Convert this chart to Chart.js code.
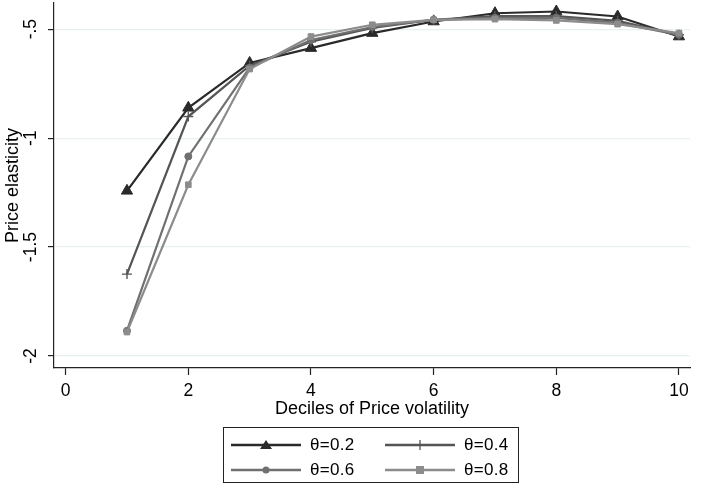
<!DOCTYPE html>
<html>
<head>
<meta charset="utf-8">
<script src="https://cdn.jsdelivr.net/npm/chart.js@4/dist/chart.umd.min.js"></script>
<style>
  html, body { margin:0; padding:0; background:#fff; }
  #wrap { position:relative; width:708px; height:488px; }
  #c { position:absolute; left:0; top:0; }
  #legend { position:absolute; left:223px; top:427px; width:296px; height:56px; border:1px solid #222; box-sizing:border-box;
    font-family:"Liberation Sans", Arial, sans-serif; font-size:17px; letter-spacing:0.3px; color:#000; }
  .item { position:absolute; display:flex; align-items:center; }
  .item span { margin-left:9px; }
</style>
</head>
<body>
<div id="wrap">
<canvas id="c" width="708" height="488"></canvas>
<div id="legend"></div>
</div>
<script>
const deciles = [1,2,3,4,5,6,7,8,9,10];
const labels = ['θ=0.2','θ=0.4','θ=0.6','θ=0.8'];
const theta02 = [-1.242,-0.861,-0.655,-0.587,-0.518,-0.465,-0.427,-0.419,-0.442,-0.534];
const theta04 = [-1.624,-0.901,-0.668,-0.558,-0.494,-0.457,-0.440,-0.440,-0.462,-0.526];
const theta06 = [-1.884,-1.084,-0.677,-0.550,-0.490,-0.457,-0.448,-0.448,-0.471,-0.526];
const theta08 = [-1.890,-1.214,-0.683,-0.534,-0.480,-0.457,-0.454,-0.460,-0.477,-0.518];
const xTicks = [0,2,4,6,8,10];
const yTicks = [-2,-1.5,-1,-0.5];
const yTickLabels = ['-2','-1.5','-1','-.5'];

const colors = ['#2a2a2a','#555555','#707070','#8c8c8c'];
const styles = ['triangle','cross','circle','rect'];
const radii = [6.5,5,3.5,4];
const series = [theta02, theta04, theta06, theta08];

const datasets = series.map((s,i)=>({
  label: labels[i],
  data: deciles.map((d,j)=>({x:d, y:s[j]})),
  borderColor: colors[i],
  backgroundColor: colors[i],
  borderWidth: 2.2,
  pointStyle: styles[i],
  pointRadius: radii[i],
  pointBorderWidth: i===1 ? 1.4 : 1,
  pointBorderColor: colors[i],
  pointBackgroundColor: colors[i],
  tension: 0,
  order: 4-i
}));

const fam = '"Liberation Sans", Arial, sans-serif';
const tickFont = {family:fam, size:17.5};
const titleFont = {family:fam, size:18};

new Chart(document.getElementById('c'), {
  type:'line',
  data:{datasets},
  options:{
    responsive:false,
    animation:false,
    layout:{autoPadding:false, padding:{top:3,right:18,left:0,bottom:0}},
    plugins:{legend:{display:false}, tooltip:{enabled:false}},
    scales:{
      x:{
        type:'linear', min:-0.19, max:10.18,
        afterBuildTicks: s => { s.ticks = xTicks.map(v=>({value:v})); },
        afterFit: s => { s.height = 120; s.paddingLeft = 0; s.paddingRight = 0; },
        ticks:{font:tickFont, color:'#000', padding:6, maxRotation:0, callback:v=>String(v)},
        grid:{drawOnChartArea:false, tickLength:7, tickColor:'#222', tickWidth:1.2},
        border:{display:true, color:'#222', width:1.2},
        title:{display:true, text:'Deciles of Price volatility', font:titleFont, color:'#000', padding:{top:0,bottom:68}}
      },
      y:{
        type:'linear', min:-2.055, max:-0.38,
        afterBuildTicks: s => { s.ticks = yTicks.map(v=>({value:v})); },
        afterFit: s => { s.width = 54; s.paddingTop = 0; s.paddingBottom = 0; },
        ticks:{font:tickFont, color:'#000', padding:2, minRotation:90, maxRotation:90, crossAlign:'center',
          callback:v=>{ const k = yTicks.indexOf(v); return k>=0 ? yTickLabels[k] : ''; }},
        grid:{color:'#e8f0f2', lineWidth:1.2, tickLength:6, tickColor:'#222', tickWidth:1.2},
        border:{display:true, color:'#222', width:1.2},
        title:{display:true, text:'Price elasticity', font:titleFont, color:'#000', padding:{top:2,bottom:0}}
      }
    }
  }
});

// HTML legend
const leg = document.getElementById('legend');
const pos = [[7,7],[161,7],[7,32],[161,32]];
labels.forEach((lab,i)=>{
  const d = document.createElement('div');
  d.className='item';
  d.style.left = pos[i][0]+'px';
  d.style.top = pos[i][1]+'px';
  const c = colors[i];
  let marker = '';
  if (i===0) marker = `<polygon points="35,4 29,13 41,13" fill="${c}"/>`;
  if (i===1) marker = `<line x1="35" y1="4" x2="35" y2="14" stroke="${c}" stroke-width="1.3"/>`;
  if (i===2) marker = `<circle cx="35" cy="9" r="3.5" fill="${c}"/>`;
  if (i===3) marker = `<rect x="31" y="5" width="8" height="8" fill="${c}"/>`;
  d.innerHTML = `<svg width="70" height="18"><line x1="0" y1="9" x2="70" y2="9" stroke="${c}" stroke-width="2.5"/>${marker}</svg><span>${lab}</span>`;
  leg.appendChild(d);
});
</script>
</body>
</html>
